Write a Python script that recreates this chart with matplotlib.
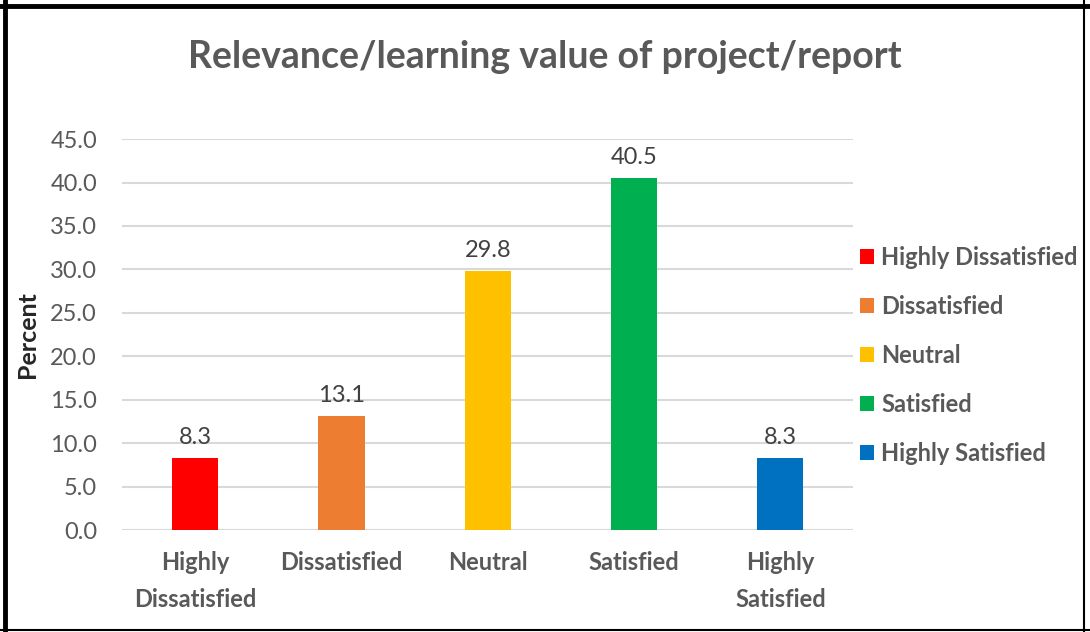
import matplotlib.pyplot as plt
from matplotlib.lines import Line2D
from matplotlib.patches import Patch

categories = ['Highly\nDissatisfied', 'Dissatisfied', 'Neutral', 'Satisfied', 'Highly\nSatisfied']
legend_labels = ['Highly Dissatisfied', 'Dissatisfied', 'Neutral', 'Satisfied', 'Highly Satisfied']
percent = [8.3, 13.1, 29.8, 40.5, 8.3]
colors = ['#FF0000', '#ED7D31', '#FFC000', '#00B050', '#0070C0']
yticks = [0, 5, 10, 15, 20, 25, 30, 35, 40, 45]

plt.rcParams['font.family'] = ['Lato', 'DejaVu Sans']
gray = '#595959'

fig = plt.figure(figsize=(10.9, 6.32), dpi=100)
ax = fig.add_axes([0.112, 0.161, 0.671, 0.619])

x = range(len(categories))
bars = ax.bar(x, percent, width=0.315, color=colors, zorder=3)

# data labels
for b, v in zip(bars, percent):
    ax.text(b.get_x() + b.get_width() / 2, v + 1.2, f'{v:.1f}',
            ha='center', va='bottom', fontsize=17, color='#404040')

ax.set_xlim(-0.5, len(categories) - 0.5)
ax.set_ylim(0, 45)
ax.set_yticks(yticks)
ax.set_yticklabels([f'{t:.1f}' for t in yticks], fontsize=17, color=gray)
ax.set_xticks(list(x))
ax.set_xticklabels(categories, fontsize=17, color=gray, fontweight='bold', linespacing=1.75)
ax.tick_params(axis='both', length=0)
ax.tick_params(axis='x', pad=15)
ax.tick_params(axis='y', pad=18)
ax.grid(axis='y', color='#D9D9D9', linewidth=1.5, zorder=0)
for s in ax.spines.values():
    s.set_visible(False)

ax.set_ylabel('Percent', fontsize=18, fontweight='bold', color='#262626', labelpad=8)
fig.text(0.5, 0.91, 'Relevance/learning value of project/report', ha='center', va='center',
         fontsize=27, fontweight='bold', color=gray)

handles = [Patch(facecolor=c) for c in colors]
leg = fig.legend(handles, legend_labels, loc='center left', bbox_to_anchor=(0.789, 0.4375),
                 frameon=False, handlelength=0.6, handleheight=0.6, handletextpad=0.3,
                 borderpad=0, borderaxespad=0,
                 labelspacing=1.1, prop={'size': 17, 'weight': 'bold'})
for t in leg.get_texts():
    t.set_color(gray)

# outer black border
fig.add_artist(Line2D([0.0045, 0.0045], [0, 1], color='black', linewidth=3.5, transform=fig.transFigure))
fig.add_artist(Line2D([0, 1], [0.991, 0.991], color='black', linewidth=3.5, transform=fig.transFigure))
fig.add_artist(Line2D([0.9945, 0.9945], [0, 1], color='black', linewidth=1.5, transform=fig.transFigure))
fig.add_artist(Line2D([0, 1], [0.003, 0.003], color='black', linewidth=1.5, transform=fig.transFigure))

fig.savefig('out.png', dpi=100)
